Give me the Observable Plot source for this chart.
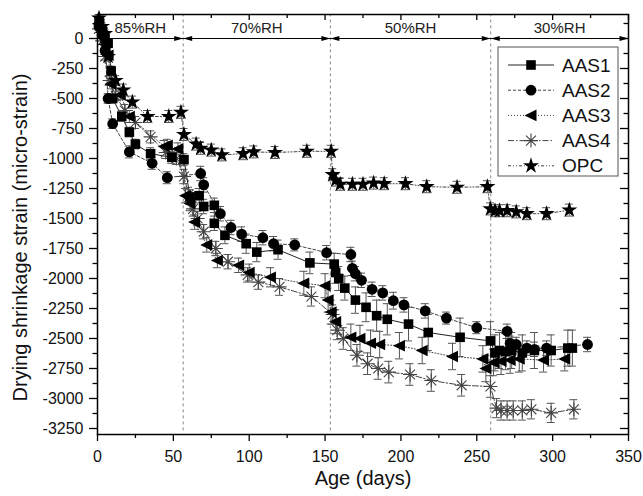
<!DOCTYPE html>
<html><head><meta charset="utf-8">
<script src="https://cdn.jsdelivr.net/npm/d3@7"></script>
<script src="https://cdn.jsdelivr.net/npm/@observablehq/plot@0.6"></script>
<style>body{margin:0;background:#fff}#chart{position:relative;width:643px;height:496px}</style>
</head><body><div id="chart"></div>
<script>
// ---- data: [age (days), drying shrinkage (micro-strain), error] ----
const seriesNames = ["AAS1","AAS2","AAS3","AAS4","OPC"];
const aas1 = [[1,150,30],[3,80,30],[5,0,30],[7,-40,30],[9,-270,40],[10,-500,40],[16,-650,40],[21,-780,40],[25,-880,40],[35,-960,50],[49,-990,50],[57,-1010,50],[61,-1320,60],[67,-1310,60],[70,-1400,60],[77,-1390,60],[77,-1540,60],[84,-1640,70],[98,-1710,80],[105,-1780,80],[119,-1760,80],[140,-1870,90],[156,-1880,90],[157,-1950,90],[159,-2000,100],[163,-2080,100],[170,-2180,110],[177,-2240,120],[184,-2310,130],[191,-2340,130],[205,-2380,140],[218,-2450,150],[239,-2490,160],[259,-2520,160],[262,-2620,150],[265,-2600,150],[269,-2610,150],[273,-2600,150],[280,-2620,150],[288,-2600,150],[299,-2600,130],[310,-2580,150],[313,-2580,150]];
const aas2 = [[1,100,30],[3,30,30],[5,-100,30],[7,-500,40],[10,-710,40],[21,-945,50],[36,-1040,50],[46,-1160,50],[68,-1125,60],[70,-1220,60],[81,-1460,60],[88,-1575,60],[95,-1630,60],[109,-1660,60],[116,-1710,60],[130,-1720,50],[151,-1785,60],[167,-1800,60],[168,-1915,60],[170,-1960,60],[174,-2015,60],[181,-2090,60],[188,-2120,60],[195,-2185,70],[202,-2220,60],[216,-2270,60],[230,-2330,50],[250,-2410,50],[270,-2440,60],[272,-2540,60],[276,-2550,60],[283,-2580,60],[288,-2590,60],[296,-2580,60],[323,-2550,60]];
const aas3 = [[1,120,30],[3,50,30],[5,-50,30],[7,-140,30],[9,-380,40],[15,-470,40],[21,-650,50],[44,-900,50],[46,-890,50],[53,-920,50],[58,-1310,60],[61,-1375,60],[64,-1530,60],[72,-1720,60],[79,-1850,60],[93,-1890,60],[100,-1950,70],[114,-1990,80],[136,-2040,100],[150,-2060,100],[152,-2180,100],[154,-2280,100],[157,-2360,100],[167,-2490,110],[173,-2500,110],[180,-2540,110],[186,-2550,110],[199,-2560,110],[214,-2600,110],[234,-2650,110],[254,-2670,110],[256,-2750,110],[261,-2700,110],[266,-2690,110],[272,-2680,110],[278,-2670,110],[294,-2680,100],[308,-2670,100]];
const aas4 = [[1,80,30],[3,-20,30],[5,-150,30],[8,-350,40],[12,-480,40],[18,-600,50],[25,-700,50],[35,-820,50],[45,-950,50],[52,-1000,50],[57,-1150,60],[60,-1300,60],[63,-1420,60],[66,-1500,60],[70,-1610,60],[78,-1750,60],[86,-1860,60],[99,-1970,60],[106,-2030,60],[120,-2070,70],[141,-2150,80],[155,-2300,80],[158,-2430,80],[162,-2500,90],[171,-2640,90],[178,-2710,90],[185,-2750,90],[192,-2780,90],[206,-2800,90],[220,-2850,90],[240,-2890,90],[259,-2900,90],[263,-3080,80],[266,-3100,80],[270,-3100,80],[274,-3100,80],[280,-3100,80],[286,-3090,80],[299,-3120,80],[314,-3090,80]];
const opc = [[1,170,30],[3,100,30],[5,40,30],[7,-150,40],[12,-350,40],[17,-430,50],[23,-530,50],[33,-650,50],[47,-650,50],[55,-615,50],[57,-800,50],[65,-880,50],[68,-915,50],[75,-930,50],[82,-970,50],[96,-960,50],[103,-945,50],[117,-950,50],[138,-940,50],[154,-940,50],[155,-1135,50],[157,-1180,50],[160,-1215,50],[168,-1215,50],[175,-1215,50],[182,-1205,50],[189,-1210,50],[203,-1210,50],[217,-1235,50],[237,-1240,50],[257,-1235,50],[259,-1420,50],[262,-1435,50],[265,-1435,50],[270,-1435,50],[276,-1445,50],[283,-1460,50],[296,-1460,50],[311,-1430,50]];

const xTicks = [0,50,100,150,200,250,300,350];
const yTicks = [0,-250,-500,-750,-1000,-1250,-1500,-1750,-2000,-2250,-2500,-2750,-3000,-3250];
const rhLabels = ["85%RH","70%RH","50%RH","30%RH"];
const rhBounds = [0,56.5,153.5,259.2,350];

// ---- symbols ----
const squareSym = {draw(c){c.moveTo(-4.8,-4.8);c.lineTo(4.8,-4.8);c.lineTo(4.8,4.8);c.lineTo(-4.8,4.8);c.closePath();}};
const circleSym = {draw(c){c.moveTo(5.4,0);c.arc(0,0,5.4,0,2*Math.PI);c.closePath();}};
const triLeftSym = {draw(c){c.moveTo(-6.5,0);c.lineTo(5.5,-5.8);c.lineTo(5.5,5.8);c.closePath();}};
const asterSym = {draw(c){for(const a of [0,45,90,135]){const r=a*Math.PI/180,dx=Math.cos(r)*7,dy=Math.sin(r)*7;c.moveTo(dx,dy);c.lineTo(-dx,-dy);}}};
const starSym = {draw(c){d3.symbolStar.draw(c,80);}};
const headRight = {draw(c){c.moveTo(0,0);c.lineTo(-9,-2.6);c.lineTo(-9,2.6);c.closePath();}};
const headLeft = {draw(c){c.moveTo(0,0);c.lineTo(9,-2.6);c.lineTo(9,2.6);c.closePath();}};

const styles = {
  AAS1:{data:aas1,sym:squareSym,fill:"#000",stroke:"none",line:"#222",dash:null},
  AAS2:{data:aas2,sym:circleSym,fill:"#000",stroke:"none",line:"#444",dash:"3,2"},
  AAS3:{data:aas3,sym:triLeftSym,fill:"#000",stroke:"none",line:"#444",dash:"1,2"},
  AAS4:{data:aas4,sym:asterSym,fill:"none",stroke:"#444",line:"#444",dash:"6,2,1.5,2"},
  OPC:{data:opc,sym:starSym,fill:"#000",stroke:"none",line:"#444",dash:"3,2,1,2,1,2"}
};

const rows = name => styles[name].data.map(([day,strain,err]) => ({series:name,day,strain,err}));
const errColor = "#555";

const seriesMarks = [];
for (const name of ["AAS4","AAS3","AAS2","AAS1","OPC"]) {
  const s = styles[name], r = rows(name);
  seriesMarks.push(Plot.line(r,{x:"day",y:"strain",stroke:s.line,strokeWidth:1,strokeDasharray:s.dash||undefined}));
  seriesMarks.push(Plot.ruleX(r,{x:"day",y1:d=>d.strain-d.err,y2:d=>d.strain+d.err,stroke:errColor,strokeWidth:1}));
  seriesMarks.push(Plot.ruleY(r,{x1:"day",x2:"day",y:d=>d.strain+d.err,insetLeft:-4,insetRight:-4,stroke:errColor,strokeWidth:1}));
  seriesMarks.push(Plot.ruleY(r,{x1:"day",x2:"day",y:d=>d.strain-d.err,insetLeft:-4,insetRight:-4,stroke:errColor,strokeWidth:1}));
}
for (const name of ["AAS4","AAS3","AAS2","AAS1","OPC"]) {
  const s = styles[name], r = rows(name);
  seriesMarks.push(Plot.dot(r,{x:"day",y:"strain",symbol:s.sym,r:4,fill:s.fill,stroke:s.stroke,strokeWidth:1.1}));
}

const xMinor = d3.range(25,350,50);
const yMinor = d3.range(125,-3300,-250);
const rh = rhLabels.map((label,i)=>({label,start:rhBounds[i],end:rhBounds[i+1]}));

const plot = Plot.plot({
  width:643, height:496,
  marginLeft:97, marginRight:15, marginTop:14, marginBottom:62,
  style:{fontFamily:"'Liberation Sans', Arial, sans-serif", fontSize:"15px", background:"#fff", color:"#000"},
  x:{domain:[0,350], axis:null},
  y:{domain:[-3300,200], axis:null},
  marks:[
    Plot.ruleX(rhBounds.slice(1,4),{y1:-3270,y2:200,stroke:"#888",strokeDasharray:"3,3",strokeWidth:1}),
    ...seriesMarks,
    Plot.link(rh,{x1:"start",x2:"end",y1:()=>0,y2:()=>0,stroke:"#000",strokeWidth:1}),
    Plot.dot(rh,{x:"end",y:()=>0,symbol:headRight,r:3,fill:"#000",stroke:"none"}),
    Plot.dot(rh,{x:"start",y:()=>0,symbol:headLeft,r:3,fill:"#000",stroke:"none"}),
    Plot.text(rh,{x:d=>(d.start+d.end)/2,y:()=>0,dy:-10,text:"label",fontSize:15,fill:"#222"}),
    Plot.frame({stroke:"#000",strokeWidth:1.5}),
    Plot.ruleY(yTicks,{x1:()=>0,x2:()=>0,insetLeft:-8,stroke:"#000",strokeWidth:1.3}),
    Plot.ruleY(yMinor,{x1:()=>0,x2:()=>0,insetLeft:-4.5,stroke:"#000",strokeWidth:1.3}),
    Plot.ruleY(yTicks,{x1:()=>350,x2:()=>350,insetLeft:-8,stroke:"#000",strokeWidth:1.3}),
    Plot.ruleY(yMinor,{x1:()=>350,x2:()=>350,insetLeft:-4.5,stroke:"#000",strokeWidth:1.3}),
    Plot.ruleX(xTicks,{y1:()=>-3300,y2:()=>-3300,insetBottom:-7,stroke:"#000",strokeWidth:1.3}),
    Plot.ruleX(xMinor,{y1:()=>-3300,y2:()=>-3300,insetBottom:-4,stroke:"#000",strokeWidth:1.3}),
    Plot.ruleX(xTicks,{y1:()=>200,y2:()=>200,insetBottom:-6,stroke:"#000",strokeWidth:1.3}),
    Plot.ruleX(xMinor,{y1:()=>200,y2:()=>200,insetBottom:-4,stroke:"#000",strokeWidth:1.3}),
    Plot.text(xTicks,{x:d=>d,y:()=>-3300,dy:22,text:d=>String(d),fontSize:16,fill:"#111"}),
    Plot.text(yTicks,{x:()=>0,y:d=>d,dx:-14,textAnchor:"end",text:d=>String(d),fontSize:16,fill:"#111"}),
    Plot.text(["Age (days)"],{frameAnchor:"bottom",dy:50,fontSize:20,fill:"#111"}),
    Plot.text(["Drying shrinkage strain (micro-strain)"],{frameAnchor:"left",textAnchor:"middle",dx:-77,dy:13,rotate:-90,fontSize:20,fill:"#111"})
  ]
});
document.getElementById("chart").append(plot);

// ---- legend (inside plot, top right) ----
const svg = d3.select(plot);
const lg = svg.append("g");
lg.append("rect").attr("x",498).attr("y",47).attr("width",120).attr("height",129)
  .attr("fill","#fff").attr("stroke","#555").attr("stroke-width",1);
seriesNames.forEach((name,i)=>{
  const s = styles[name], y = 65 + i*25.2;
  lg.append("line").attr("x1",508).attr("x2",554).attr("y1",y).attr("y2",y)
    .attr("stroke",s.line).attr("stroke-width",1).attr("stroke-dasharray",s.dash);
  lg.append("path").attr("transform",`translate(531,${y})`).attr("d",d3.symbol(s.sym,1)())
    .attr("fill",s.fill).attr("stroke",s.stroke==="none"?null:s.stroke).attr("stroke-width",1.1);
  lg.append("text").attr("x",562).attr("y",y).attr("dy","0.35em").attr("text-anchor","start")
    .attr("font-size",19).attr("fill","#111").text(name);
});
</script></body></html>
